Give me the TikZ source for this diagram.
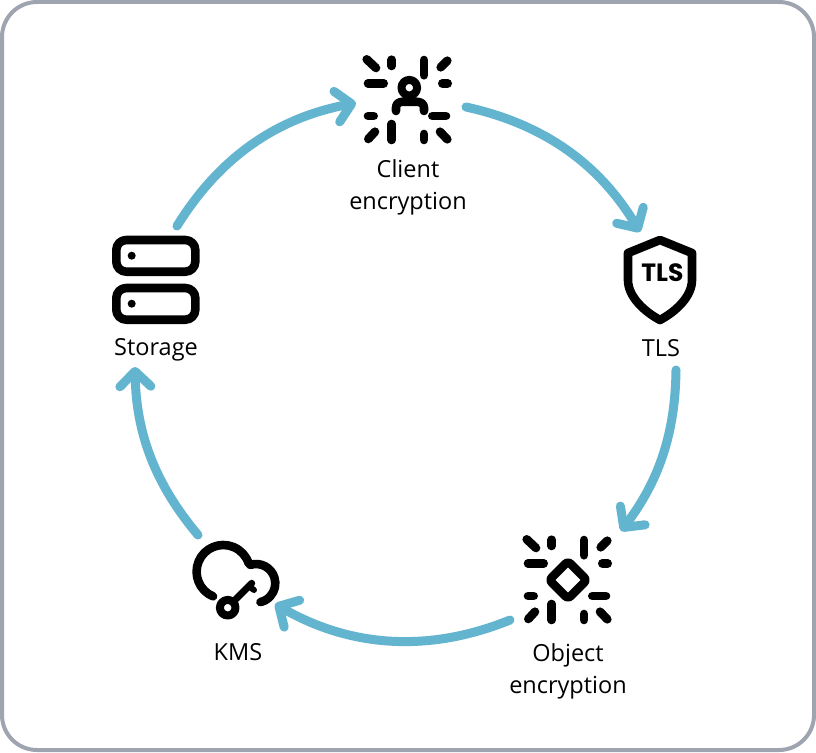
\documentclass[tikz,border=0pt]{standalone}
\usepackage{fontspec}
\setmainfont{Open Sans}
\newfontfamily\badgefont{Poppins}
\usetikzlibrary{arrows.meta}
\definecolor{flow}{HTML}{63B5CF}
\definecolor{frameline}{HTML}{9EA5B1}
\tikzset{
  ink/.style={line width=8.6pt,line cap=round,line join=round,black},
  flowarc/.style={line width=9pt,line cap=round,flow,-{Straight Barb[round,length=15pt,width=31pt,line width=9pt]}},
  lab/.style={font=\fontsize{23.5}{32}\selectfont,align=center,inner sep=0pt,text=black,anchor=center},
}
\newcommand{\rays}[2]{%
  \begin{scope}[shift={(#1,#2)}]
    \draw[ink] (366.7,59.3)--(376,68);
    \draw[ink] (391.7,59.7)--(391.7,66);
    \draw[ink] (424,60)--(424,75.3);
    \draw[ink] (447.3,60.7)--(440.7,67.3);
    \draw[ink] (368,83.3)--(383.7,83.3);
    \draw[ink] (442.3,83.3)--(447.7,83.3);
    \draw[ink] (368,116)--(373.7,116);
    \draw[ink] (432.3,116)--(446,116);
    \draw[ink] (375,131.7)--(368.3,139);
    \draw[ink] (391.7,124)--(391.7,140);
    \draw[ink] (424,134)--(424,140);
    \draw[ink] (440,131.7)--(447.3,139.3);
  \end{scope}}
\begin{document}
\begin{tikzpicture}[x=1pt,y=-1pt]
\useasboundingbox (0,0) rectangle (816,752);
\draw[frameline,line width=4pt,fill=white,rounded corners=35pt] (2,2) rectangle (814,750);

% anchors of the connectors
\coordinate (storageOut) at (177,226);
\coordinate (clientIn) at (356,103);
\coordinate (clientOut) at (466,107);
\coordinate (tlsIn) at (640,232);
\coordinate (tlsOut) at (676,370);
\coordinate (objectIn) at (621,531);
\coordinate (objectOut) at (510,620);
\coordinate (kmsIn) at (275,604);
\coordinate (kmsOut) at (198,535);
\coordinate (storageIn) at (135,367);

\draw[flowarc] (storageOut) to[bend left=23.8,looseness=.95] (clientIn);
\draw[flowarc] (clientOut) to[bend left=23.3,looseness=.95] (tlsIn);
\draw[flowarc] (tlsOut) to[bend left=18.2,looseness=.95] (objectIn);
\draw[flowarc] (objectOut) to[bend left=26,looseness=.95] (kmsIn);
\draw[flowarc] (kmsOut) to[bend left=19.5,looseness=.95] (storageIn);

% client icon
\rays{0}{0}
\draw[ink,line width=8pt] (409.3,87.7) circle[radius=7.8];
\draw[ink] (396,111)--(396,107.7) .. controls (396,103.7) and (399,101.7) .. (403.3,101.7)--(416,101.7) .. controls (420.5,101.7) and (424,103.7) .. (424,107.7)--(424,111);

% shield
\draw[ink] (660,240) -- (628,253) -- (628,280) .. controls (628,297) and (645,312) .. (660,320) .. controls (675,312) and (692,297) .. (692,280) -- (692,253) -- cycle;
\node[inner sep=0pt,font=\badgefont\bfseries\fontsize{25}{25}\selectfont] (badge) at (662.5,273) {TLS};

% object icon
\rays{160}{480}
\draw[ink,rounded corners=3pt] (568,561.3)--(586.7,580)--(568,598.7)--(549.3,580)--cycle;

% cloud and key
\draw[ink] (223.3,571.7) ++(112.6:26.7) arc[start angle=112.6,end angle=342.2,radius=26.7];
\draw[ink] (256,583.3) ++(252.5:19.3) arc[start angle=252.5,end angle=436.6,radius=19.3];
\draw[ink,line width=8pt] (227.7,607.7) circle[radius=7.8];
\draw[ink,line width=7pt] (233,602)--(251.7,583.3);
\draw[ink,line width=6pt] (250,587)--(254,590);

% storage
\draw[ink,rounded corners=10pt] (116.3,240) rectangle (195.3,271.7);
\draw[ink,rounded corners=10pt] (116.3,288) rectangle (195.3,319.7);
\fill (131.7,255.7) circle[radius=4];
\fill (131.7,303.7) circle[radius=4];

% labels
\node[lab] (clientLabel) at (408,187) {Client\\encryption};
\node[lab] (tlsLabel) at (661,348.5) {TLS};
\node[lab] (objectLabel) at (568,671) {Object\\encryption};
\node[lab] (kmsLabel) at (238,652.5) {KMS};
\node[lab] (storageLabel) at (156,350) {Storage};
\end{tikzpicture}
\end{document}
